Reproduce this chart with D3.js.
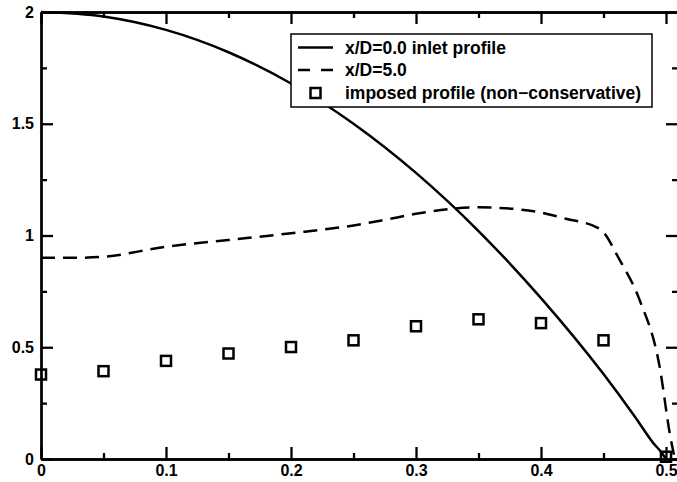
<!DOCTYPE html>
<html>
<head>
<meta charset="utf-8">
<style>
    body { margin: 0; background: #fff; }
    svg text { font-family: "Liberation Sans", Arial, Helvetica, sans-serif; font-weight: bold; fill: #000; }
    .line { fill: none; stroke: #000; stroke-width: 2.5; }
    .axis path, .axis line { stroke: #000; stroke-width: 2.3; }
    .axis text { font-size: 16px; }
</style>
</head>
<body>
<svg width="677" height="482"></svg>
<script src="https://d3js.org/d3.v7.min.js"></script>
<script>
// solid: x/D=0.0 inlet profile
var inletX = [0, 0.05, 0.1, 0.15, 0.2, 0.25, 0.3, 0.35, 0.4, 0.45, 0.475, 0.49, 0.497, 0.5];
var inletY = [2.0, 1.98, 1.92, 1.82, 1.68, 1.50, 1.28, 1.02, 0.72, 0.38, 0.19, 0.07, 0.025, 0.0];

// dashed: x/D=5.0
var outletX = [0, 0.025, 0.05, 0.1, 0.15, 0.2, 0.25, 0.275, 0.3, 0.35, 0.39, 0.42, 0.447, 0.463, 0.479, 0.495, 0.503, 0.507];
var outletY = [0.90, 0.90, 0.905, 0.95, 0.98, 1.01, 1.045, 1.07, 1.097, 1.126, 1.112, 1.075, 1.03, 0.89, 0.71, 0.41, 0.115, 0.0];

// squares: imposed profile
var imposedX = [0, 0.05, 0.1, 0.15, 0.2, 0.25, 0.3, 0.35, 0.4, 0.45, 0.5];
var imposedY = [0.378, 0.393, 0.439, 0.472, 0.501, 0.531, 0.594, 0.625, 0.608, 0.531, 0.01];

var xMajor = [0, 0.1, 0.2, 0.3, 0.4, 0.5];
var xMajorLabels = ["0", "0.1", "0.2", "0.3", "0.4", "0.5"];
var xMinor = [0.05, 0.15, 0.25, 0.35, 0.45];
var yMajor = [0, 0.5, 1, 1.5, 2];
var yMajorLabels = ["0", "0.5", "1", "1.5", "2"];
var yMinor = [0.25, 0.75, 1.25, 1.75];

var legendLabels = ["x/D=0.0 inlet profile", "x/D=5.0", "imposed profile (non\u2212conservative)"];

var svg = d3.select("svg"),
    plotLeft = 41, plotTop = 12, plotRight = 678, plotBottom = 459;

var x = d3.scaleLinear().domain([0, 0.5096]).range([plotLeft, plotRight]);
var y = d3.scaleLinear().domain([0, 2]).range([plotBottom, plotTop]);

// axes, ticks pointing inward
svg.append("g").attr("class", "axis")
    .attr("transform", "translate(0," + plotBottom + ")")
    .call(d3.axisBottom(x).tickValues(xMajor).tickSize(-12).tickSizeOuter(0).tickPadding(6)
        .tickFormat(function (d, i) { return xMajorLabels[i]; }));
svg.append("g").attr("class", "axis")
    .attr("transform", "translate(0," + plotBottom + ")")
    .call(d3.axisBottom(x).tickValues(xMinor).tickSize(-6).tickSizeOuter(0).tickFormat(""));
svg.append("g").attr("class", "axis")
    .attr("transform", "translate(0," + plotTop + ")")
    .call(d3.axisTop(x).tickValues(xMajor).tickSize(-12).tickSizeOuter(0).tickFormat(""));
svg.append("g").attr("class", "axis")
    .attr("transform", "translate(0," + plotTop + ")")
    .call(d3.axisTop(x).tickValues(xMinor).tickSize(-6).tickSizeOuter(0).tickFormat(""));

svg.append("g").attr("class", "axis")
    .attr("transform", "translate(" + plotLeft + ",0)")
    .call(d3.axisLeft(y).tickValues(yMajor).tickSize(-12).tickSizeOuter(0).tickPadding(7)
        .tickFormat(function (d, i) { return yMajorLabels[i]; }));
svg.append("g").attr("class", "axis")
    .attr("transform", "translate(" + plotLeft + ",0)")
    .call(d3.axisLeft(y).tickValues(yMinor).tickSize(-6).tickSizeOuter(0).tickFormat(""));
svg.append("g").attr("class", "axis")
    .attr("transform", "translate(" + plotRight + ",0)")
    .call(d3.axisRight(y).tickValues(yMajor).tickSize(-12).tickSizeOuter(0).tickFormat(""));
svg.append("g").attr("class", "axis")
    .attr("transform", "translate(" + plotRight + ",0)")
    .call(d3.axisRight(y).tickValues(yMinor).tickSize(-6).tickSizeOuter(0).tickFormat(""));

var line = d3.line()
    .x(function (d) { return x(d[0]); })
    .y(function (d) { return y(d[1]); })
    .curve(d3.curveMonotoneX);

svg.append("path")
    .datum(d3.zip(inletX, inletY))
    .attr("class", "line")
    .attr("d", line);

svg.append("path")
    .datum(d3.zip(outletX, outletY))
    .attr("class", "line")
    .attr("stroke-dasharray", "14,8")
    .attr("d", line);

svg.selectAll(".sq")
    .data(d3.zip(imposedX, imposedY))
    .enter().append("rect")
    .attr("class", "sq")
    .attr("x", function (d) { return x(d[0]) - 5; })
    .attr("y", function (d) { return y(d[1]) - 5; })
    .attr("width", 10)
    .attr("height", 10)
    .attr("fill", "none")
    .attr("stroke", "#000")
    .attr("stroke-width", 2.5);

// legend
var lg = svg.append("g").attr("transform", "translate(291,34)");
lg.append("rect")
    .attr("width", 361).attr("height", 73)
    .attr("fill", "#fff").attr("stroke", "#000").attr("stroke-width", 1.5);

var rowY = [13.5, 36, 59];
lg.append("line").attr("x1", 7).attr("x2", 42).attr("y1", rowY[0]).attr("y2", rowY[0])
    .attr("stroke", "#000").attr("stroke-width", 2.5);
lg.append("line").attr("x1", 7).attr("x2", 42).attr("y1", rowY[1]).attr("y2", rowY[1])
    .attr("stroke", "#000").attr("stroke-width", 2.5).attr("stroke-dasharray", "12,11");
lg.append("rect").attr("x", 24.5 - 5).attr("y", rowY[2] - 5).attr("width", 10).attr("height", 10)
    .attr("fill", "none").attr("stroke", "#000").attr("stroke-width", 2.5);

lg.selectAll(".lt")
    .data(legendLabels)
    .enter().append("text")
    .attr("x", 54)
    .attr("y", function (d, i) { return rowY[i]; })
    .attr("dy", "0.35em")
    .style("font-size", "17.5px")
    .text(function (d) { return d; });
</script>
</body>
</html>
